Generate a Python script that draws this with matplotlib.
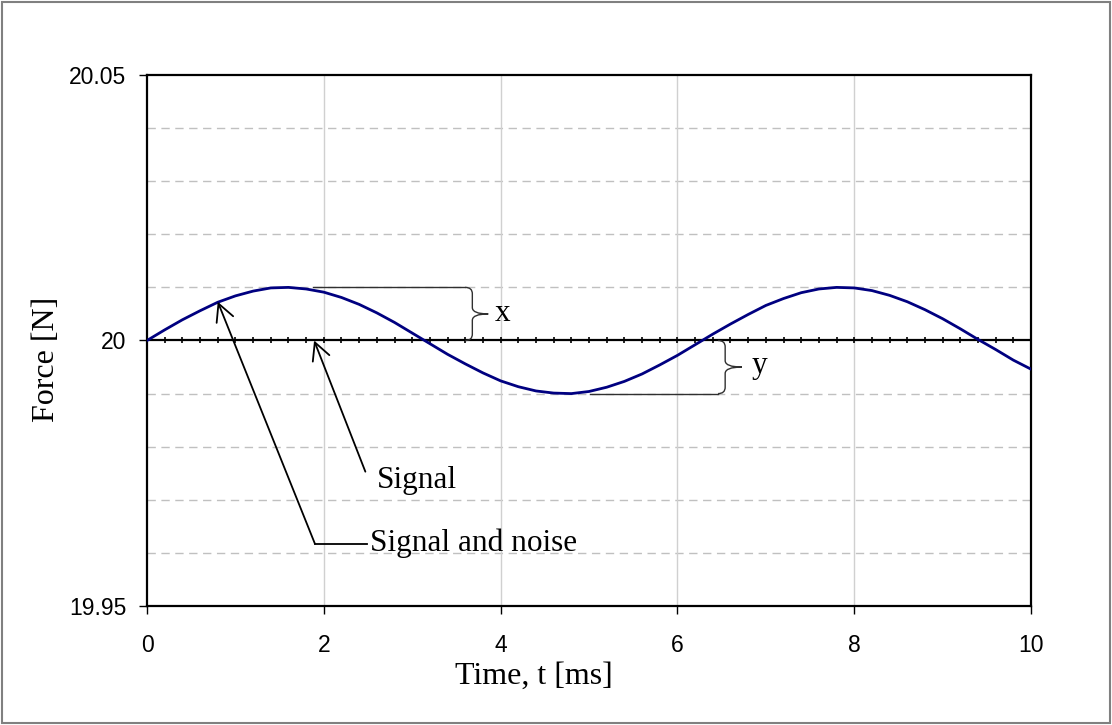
import numpy as np
import matplotlib.pyplot as plt
from matplotlib.path import Path
from matplotlib.patches import PathPatch, Rectangle

time_ms = [0.0, 0.2, 0.4, 0.6, 0.8, 1.0, 1.2, 1.4, 1.6, 1.8,
           2.0, 2.2, 2.4, 2.6, 2.8, 3.0, 3.2, 3.4, 3.6, 3.8,
           4.0, 4.2, 4.4, 4.6, 4.8, 5.0, 5.2, 5.4, 5.6, 5.8,
           6.0, 6.2, 6.4, 6.6, 6.8, 7.0, 7.2, 7.4, 7.6, 7.8,
           8.0, 8.2, 8.4, 8.6, 8.8, 9.0, 9.2, 9.4, 9.6, 9.8, 10.0]
noisy = [20.0000, 20.0020, 20.0039, 20.0056, 20.0072, 20.0084, 20.0093, 20.0099, 20.0100, 20.0097,
         20.0091, 20.0081, 20.0068, 20.0052, 20.0034, 20.0014, 19.9994, 19.9974, 19.9956, 19.9939,
         19.9924, 19.9913, 19.9905, 19.9901, 19.9900, 19.9904, 19.9912, 19.9923, 19.9937, 19.9954,
         19.9972, 19.9992, 20.0012, 20.0031, 20.0049, 20.0066, 20.0079, 20.0090, 20.0097, 20.0100,
         20.0099, 20.0094, 20.0085, 20.0073, 20.0058, 20.0041, 20.0022, 20.0002, 19.9983, 19.9963, 19.9946]
signal = [20.0] * len(time_ms)

x_ticks = [0, 2, 4, 6, 8, 10]
y_ticks = [19.95, 20.0, 20.05]
y_ticklabels = ['19.95', '20', '20.05']
y_grid = [19.96, 19.97, 19.98, 19.99, 20.01, 20.02, 20.03, 20.04]

serif = 'Liberation Serif'
sans = 'Liberation Sans'

fig = plt.figure(figsize=(11.12, 7.25), dpi=100)
ax = fig.add_axes([0.1322, 0.1641, 0.7950, 0.7325])

# grid
for g in y_grid:
    ax.axhline(g, color='#c0c0c0', lw=1, ls=(0, (6, 4)), zorder=0)
for g in x_ticks[1:-1]:
    ax.axvline(g, color='#d0d0d0', lw=1, zorder=0)

ax.plot(time_ms, signal, color='black', lw=1.6, marker='|', ms=4, mew=1.2, zorder=2)
ax.plot(time_ms, noisy, color='#000080', lw=2, zorder=3)

ax.set_xlim(0, 10)
ax.set_ylim(19.95, 20.05)
ax.set_xticks(x_ticks)
ax.set_xticklabels([str(t) for t in x_ticks], fontsize=16.5, family=sans)
ax.set_yticks(y_ticks)
ax.set_yticklabels(y_ticklabels, fontsize=16.5, family=sans)
ax.tick_params(axis='x', direction='out', length=6, width=1, pad=14)
ax.tick_params(axis='y', direction='out', length=6, width=1, pad=9)
for s in ax.spines.values():
    s.set_linewidth(1.6)

# axis titles
fig.text(534 / 1112, 1 - 676 / 725, 'Time, t [ms]', fontsize=23, family=serif,
         ha='center', va='center')
fig.text(47 / 1112, 1 - 359 / 725, 'Force [N]', fontsize=23, family=serif,
         ha='center', va='center', rotation=90)


def brace(xs, xt, yt, yb, rx, ry):
    ym = (yt + yb) / 2
    verts = [(xs - rx, yt), (xs, yt), (xs, yt - ry),
             (xs, ym + ry), (xs, ym), (xt, ym),
             (xs, ym), (xs, ym - ry),
             (xs, yb + ry), (xs, yb), (xs - rx, yb)]
    codes = [Path.MOVETO, Path.CURVE3, Path.CURVE3,
             Path.LINETO, Path.CURVE3, Path.CURVE3,
             Path.CURVE3, Path.CURVE3,
             Path.LINETO, Path.CURVE3, Path.CURVE3]
    ax.add_patch(PathPatch(Path(verts, codes), fill=False, color='#303030', lw=1, zorder=4))


# brace x (peak above 20)
ax.plot([1.88, 3.60], [20.01, 20.01], color='#303030', lw=1, zorder=4)
brace(3.68, 3.86, 20.01, 20.0, 0.08, 0.0012)
ax.text(3.93, 20.0051, 'x', fontsize=22.5, family=serif, ha='left', va='center')

# brace y (trough below 20)
ax.plot([5.01, 6.46], [19.99, 19.99], color='#303030', lw=1, zorder=4)
brace(6.54, 6.73, 20.0, 19.99, 0.08, 0.0012)
ax.text(6.84, 19.9953, 'y', fontsize=22.5, family=serif, ha='left', va='center')

arrow = dict(arrowstyle='->, head_length=0.62, head_width=0.32', color='black', lw=1.3,
             mutation_scale=20, shrinkA=0, shrinkB=0)

# Signal arrow
ax.annotate('', xy=(1.89, 20.0), xytext=(2.47, 19.9753), arrowprops=arrow, zorder=5)
ax.text(2.60, 19.9737, 'Signal', fontsize=22.5, family=serif, ha='left', va='center')

# Signal and noise arrow
ax.annotate('', xy=(0.80, 20.0073), xytext=(1.90, 19.9617), arrowprops=arrow, zorder=5)
ax.plot([1.90, 2.49], [19.9617, 19.9617], color='black', lw=1.3, zorder=5)
ax.text(2.52, 19.9619, 'Signal and noise', fontsize=22.5, family=serif, ha='left', va='center')

# outer chart border
fig.patches.append(Rectangle((0.002, 0.003), 0.996, 0.994, transform=fig.transFigure,
                             fill=False, edgecolor='#808080', lw=1.5))

fig.savefig('out.png', dpi=100)
